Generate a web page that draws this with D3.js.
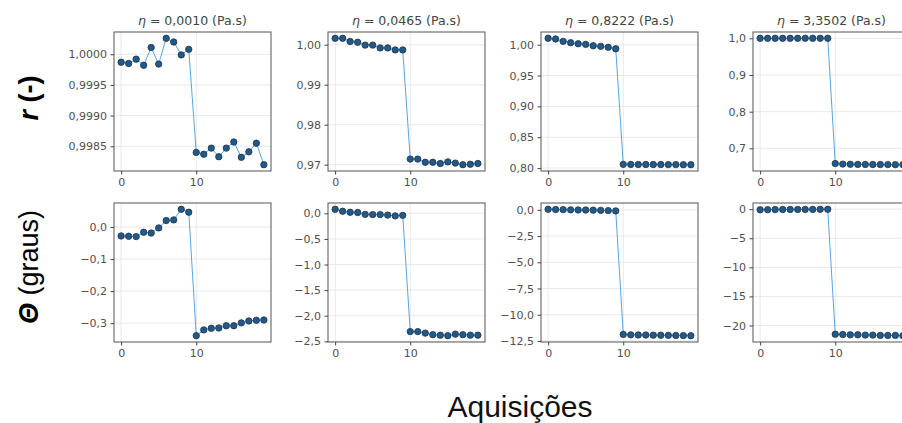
<!DOCTYPE html>
<html><head><meta charset="utf-8">
<script src="https://cdn.jsdelivr.net/npm/d3@7"></script>
<style>
body{margin:0;background:#fff;}
svg{display:block;}
</style></head>
<body>
<svg id="c" width="902" height="423"></svg>
<script>
const viscosities = ["0,0010", "0,0465", "0,8222", "3,3502"];
const acquisitions = d3.range(20);
const xTicks = [0, 10];

const r_0010 = [0.99987,0.99985,0.99992,0.99982,1.00011,0.99984,1.00026,1.00020,0.99999,1.00008,
                0.99840,0.99837,0.99847,0.99833,0.99847,0.99857,0.99832,0.99841,0.99855,0.99820];
const r_0465 = [1.0016,1.0016,1.0008,1.0006,0.9999,0.9999,0.9992,0.9992,0.9987,0.9987,
                0.9714,0.9714,0.9706,0.9706,0.9703,0.9707,0.9704,0.9700,0.9701,0.9703];
const r_8222 = [1.0104,1.0093,1.0055,1.0033,1.0016,1.0006,0.9984,0.9974,0.9958,0.9935,
                0.8060,0.8059,0.8058,0.8058,0.8057,0.8057,0.8056,0.8056,0.8055,0.8055];
const r_33502 = [1.0000,1.0000,1.0000,1.0000,1.0000,1.0000,1.0000,1.0000,1.0000,1.0000,
                 0.6585,0.6570,0.6565,0.6562,0.6560,0.6558,0.6557,0.6556,0.6555,0.6554];

const t_0010 = [-0.028,-0.029,-0.030,-0.0165,-0.019,-0.003,0.020,0.022,0.055,0.046,
                -0.339,-0.321,-0.316,-0.315,-0.308,-0.308,-0.299,-0.293,-0.291,-0.290];
const t_0465 = [0.078,0.040,0.020,0.015,-0.020,-0.025,-0.025,-0.035,-0.050,-0.040,
                -2.31,-2.31,-2.34,-2.37,-2.38,-2.39,-2.36,-2.37,-2.38,-2.38];
const t_8222 = [0.05,0.03,0.02,0.0,-0.01,-0.02,-0.03,-0.05,-0.07,-0.10,
                -11.88,-11.92,-11.93,-11.94,-11.95,-11.96,-11.97,-11.98,-11.99,-12.00];
const t_33502 = [-0.10,-0.08,-0.06,-0.05,-0.04,-0.04,-0.03,-0.03,-0.02,-0.02,
                 -21.5,-21.55,-21.6,-21.6,-21.65,-21.65,-21.7,-21.7,-21.7,-21.75];

const rTicks = [[0.9985,0.9990,0.9995,1.0000],[0.97,0.98,0.99,1.00],[0.80,0.85,0.90,0.95,1.00],[0.7,0.8,0.9,1.0]];
const rDecimals = [4,2,2,1];
const tTicks = [[-0.3,-0.2,-0.1,0.0],[-2.5,-2.0,-1.5,-1.0,-0.5,0.0],[-12.5,-10.0,-7.5,-5.0,-2.5,0.0],[-20,-15,-10,-5,0]];
const tDecimals = [1,1,1,0];

const rSeries = [r_0010, r_0465, r_8222, r_33502];
const tSeries = [t_0010, t_0465, t_8222, t_33502];

const svg = d3.select("#c");
const colLeft = [114, 328, 541, 753];
const rowTop = [32, 203];
const pw = 157, ph = 139;

const x = d3.scaleLinear().domain([-0.95, 19.95]).range([0, pw]);

function fmt(dec){ const f = d3.format("." + dec + "f"); return v => f(v).replace(".", ",").replace("-", "\u2212"); }

function panel(col, row, data, ticks, dec){
  const ext = d3.extent(data);
  const pad = (ext[1]-ext[0])*0.05;
  const y = d3.scaleLinear().domain([ext[0]-pad, ext[1]+pad]).range([ph, 0]);
  const g = svg.append("g").attr("transform", `translate(${colLeft[col]},${rowTop[row]})`);
  const cid = "clip" + col + row;
  g.append("clipPath").attr("id", cid).append("rect").attr("width", pw).attr("height", ph);
  g.append("g").selectAll("line").data(ticks).join("line")
    .attr("x1",0).attr("x2",pw).attr("y1",d=>y(d)).attr("y2",d=>y(d))
    .attr("stroke","#e3e3e3").attr("stroke-width",0.8);
  g.append("g").selectAll("line").data(xTicks).join("line")
    .attr("y1",0).attr("y2",ph).attr("x1",d=>x(d)).attr("x2",d=>x(d))
    .attr("stroke","#e3e3e3").attr("stroke-width",0.8);
  const pts = data.map((v,i)=>[acquisitions[i], v]);
  const inner = g.append("g").attr("clip-path", `url(#${cid})`);
  inner.append("path").datum(pts)
    .attr("d", d3.line().x(d=>x(d[0])).y(d=>y(d[1])))
    .attr("fill","none").attr("stroke","#55a5e3").attr("stroke-width",1);
  g.append("g").selectAll("circle").data(pts).join("circle")
    .attr("cx",d=>x(d[0])).attr("cy",d=>y(d[1])).attr("r",3.2)
    .attr("fill","#1f5a8e").attr("stroke","#26323d").attr("stroke-width",0.8);
  g.append("rect").attr("width",pw).attr("height",ph).attr("fill","none")
    .attr("stroke","#555").attr("stroke-width",1);
  const ya = g.append("g").call(d3.axisLeft(y).tickValues(ticks).tickFormat(fmt(dec)).tickSize(3.5).tickPadding(3.5));
  ya.select(".domain").remove();
  ya.selectAll("line").attr("stroke","#444");
  ya.selectAll("text").attr("fill","#505050").style("font-family","DejaVu Sans").style("font-size","11px");
  const xa = g.append("g").attr("transform",`translate(0,${ph})`)
    .call(d3.axisBottom(x).tickValues(xTicks).tickFormat(d3.format("d")).tickSize(3.5).tickPadding(3.5));
  xa.select(".domain").remove();
  xa.selectAll("line").attr("stroke","#444");
  xa.selectAll("text").attr("fill","#505050").style("font-family","DejaVu Sans").style("font-size","11px");
  return g;
}

for (let c=0;c<4;c++){
  const g = panel(c, 0, rSeries[c], rTicks[c], rDecimals[c]);
  const t = g.append("text").attr("x", pw/2).attr("y", -7).attr("text-anchor","middle")
    .style("font-family","DejaVu Sans").style("font-size","12.5px").attr("fill","#444");
  t.append("tspan").style("font-style","italic").text("\u03b7");
  t.append("tspan").text(" = " + viscosities[c] + " (Pa.s)");
  panel(c, 1, tSeries[c], tTicks[c], tDecimals[c]);
}

const l1 = svg.append("text").attr("transform","translate(38,98) rotate(-90)").attr("text-anchor","middle")
  .style("font-family","Liberation Sans, Arial, sans-serif").style("font-size","27px").attr("fill","#000");
l1.append("tspan").style("font-weight","bold").style("font-style","italic").text("r");
l1.append("tspan").style("font-weight","bold").text(" (-)");
const l2 = svg.append("text").attr("transform","translate(38,267) rotate(-90)").attr("text-anchor","middle")
  .style("font-family","Liberation Sans, Arial, sans-serif").style("font-size","27px").attr("fill","#000");
l2.append("tspan").style("font-weight","bold").style("font-style","italic").text("\u0398");
l2.append("tspan").text(" (graus)");

svg.append("text").attr("x",520).attr("y",417).attr("text-anchor","middle")
  .style("font-family","Liberation Sans, Arial, sans-serif").style("font-size","30px").attr("fill","#111")
  .text("Aquisições");
</script>
</body></html>
